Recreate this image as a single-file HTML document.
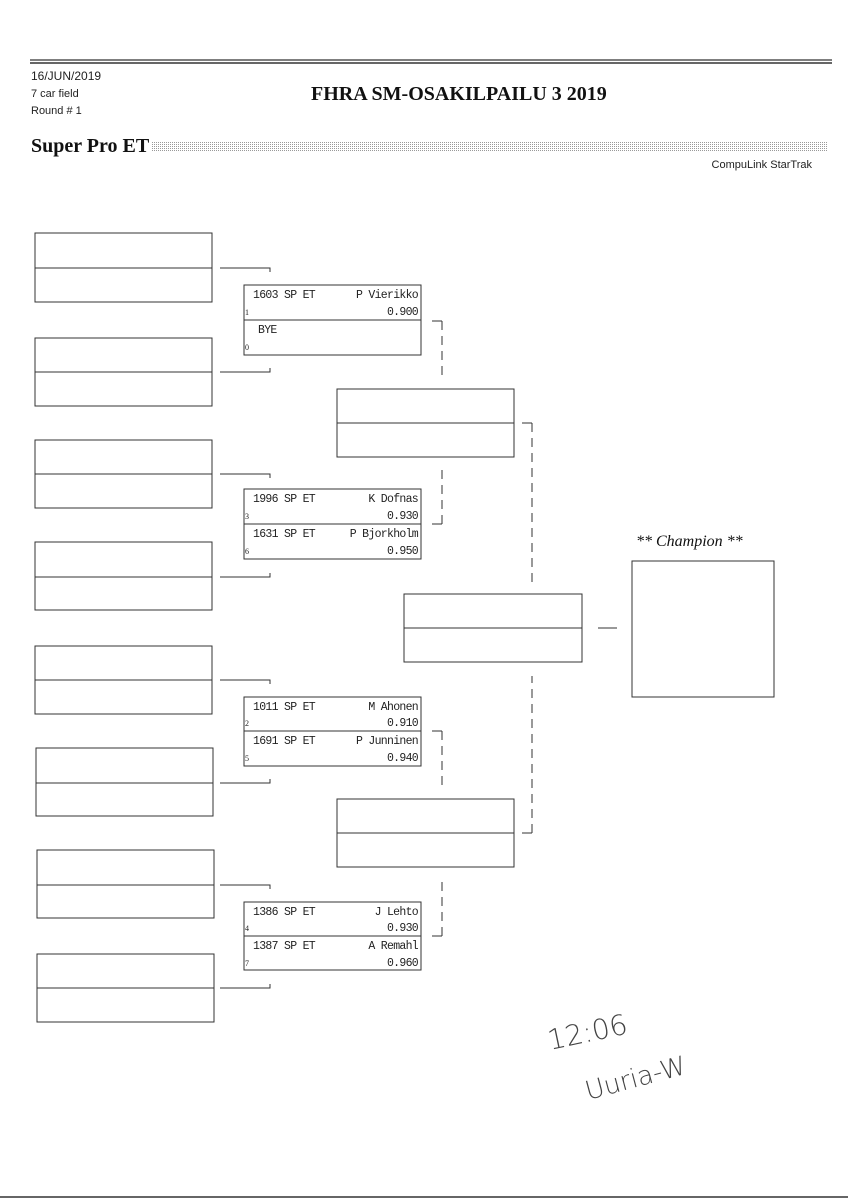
<!DOCTYPE html>
<html><head><meta charset="utf-8"><style>
html,body{margin:0;padding:0;background:#fff;width:848px;height:1200px;overflow:hidden}
svg{display:block}
.m{font-family:"Liberation Mono",monospace;font-size:11.5px;fill:#222;letter-spacing:-0.7px}
.s{font-family:"Liberation Serif",serif;font-size:8px;fill:#222}
.n{font-family:"Liberation Sans",sans-serif;font-size:11px;fill:#222}
</style></head><body>
<svg width="848" height="1200" viewBox="0 0 848 1200" xmlns="http://www.w3.org/2000/svg">
<defs><pattern id="dots" width="2" height="2" patternUnits="userSpaceOnUse"><rect width="1" height="1" fill="#999"/></pattern></defs>
<line x1="30" y1="60" x2="832" y2="60" stroke="#555" stroke-width="1.5"/>
<line x1="30" y1="63" x2="832" y2="63" stroke="#333" stroke-width="1.5"/>
<line x1="0" y1="1197" x2="848" y2="1197" stroke="#333" stroke-width="1.5"/>
<text class="n" x="31" y="80" style="font-size:12px">16/JUN/2019</text>
<text class="n" x="31" y="97" style="font-size:11px">7 car field</text>
<text class="n" x="31" y="114" style="font-size:11px">Round # 1</text>
<text x="311" y="100" style="font-family:'Liberation Serif',serif;font-weight:bold;font-size:20px" fill="#111">FHRA SM-OSAKILPAILU 3 2019</text>
<text x="31" y="152" style="font-family:'Liberation Serif',serif;font-weight:bold;font-size:20px" fill="#111">Super Pro ET</text>
<rect x="152" y="141" width="676" height="11" fill="url(#dots)"/>
<text class="n" x="812" y="168" text-anchor="end" style="font-size:11px">CompuLink StarTrak</text>

<g fill="none" stroke="#333" stroke-width="1">
<rect x="35" y="233" width="177" height="69"/><line x1="35" y1="268" x2="212" y2="268"/>
<rect x="35" y="338" width="177" height="68"/><line x1="35" y1="372" x2="212" y2="372"/>
<rect x="35" y="440" width="177" height="68"/><line x1="35" y1="474" x2="212" y2="474"/>
<rect x="35" y="542" width="177" height="68"/><line x1="35" y1="577" x2="212" y2="577"/>
<rect x="35" y="646" width="177" height="68"/><line x1="35" y1="680" x2="212" y2="680"/>
<rect x="36" y="748" width="177" height="68"/><line x1="36" y1="783" x2="213" y2="783"/>
<rect x="37" y="850" width="177" height="68"/><line x1="37" y1="885" x2="214" y2="885"/>
<rect x="37" y="954" width="177" height="68"/><line x1="37" y1="988" x2="214" y2="988"/>
<path d="M220 268H270V272"/><path d="M220 372H270V368"/>
<path d="M220 474H270V478"/><path d="M220 577H270V573"/>
<path d="M220 680H270V684"/><path d="M220 783H270V779"/>
<path d="M220 885H270V889"/><path d="M220 988H270V984"/>
<rect x="244" y="285" width="177" height="70"/><line x1="244" y1="320" x2="421" y2="320"/>
<rect x="244" y="489" width="177" height="70"/><line x1="244" y1="524" x2="421" y2="524"/>
<rect x="244" y="697" width="177" height="69"/><line x1="244" y1="731" x2="421" y2="731"/>
<rect x="244" y="902" width="177" height="68"/><line x1="244" y1="936" x2="421" y2="936"/>
<rect x="337" y="389" width="177" height="68"/><line x1="337" y1="423" x2="514" y2="423"/>
<rect x="337" y="799" width="177" height="68"/><line x1="337" y1="833" x2="514" y2="833"/>
<rect x="404" y="594" width="178" height="68"/><line x1="404" y1="628" x2="582" y2="628"/>
<line x1="598" y1="628" x2="617" y2="628"/>
<rect x="632" y="561" width="142" height="136"/>
</g>
<g fill="none" stroke="#333" stroke-width="1">
<line x1="432" y1="321" x2="442" y2="321"/><line x1="432" y1="524" x2="442" y2="524"/>
<line x1="432" y1="731" x2="442" y2="731"/><line x1="432" y1="936" x2="442" y2="936"/>
<line x1="522" y1="423" x2="532" y2="423"/><line x1="522" y1="833" x2="532" y2="833"/>
</g>
<g fill="none" stroke="#333" stroke-width="1" stroke-dasharray="9,6">
<line x1="442" y1="321" x2="442" y2="378"/><line x1="442" y1="524" x2="442" y2="466"/>
<line x1="442" y1="731" x2="442" y2="788"/><line x1="442" y1="936" x2="442" y2="880"/>
<line x1="532" y1="423" x2="532" y2="582"/><line x1="532" y1="833" x2="532" y2="676"/>
</g>
<text x="636" y="546" style="font-family:'Liberation Serif',serif;font-style:italic;font-size:16px" fill="#111">** Champion **</text>

<g class="m">
<text x="253" y="298">1603 SP ET</text><text x="418" y="298" text-anchor="end">P Vierikko</text><text x="418" y="315" text-anchor="end">0.900</text>
<text x="258" y="333">BYE</text>
<text x="253" y="502">1996 SP ET</text><text x="418" y="502" text-anchor="end">K Dofnas</text><text x="418" y="519" text-anchor="end">0.930</text>
<text x="253" y="537">1631 SP ET</text><text x="418" y="537" text-anchor="end">P Bjorkholm</text><text x="418" y="554" text-anchor="end">0.950</text>
<text x="253" y="710">1011 SP ET</text><text x="418" y="710" text-anchor="end">M Ahonen</text><text x="418" y="726" text-anchor="end">0.910</text>
<text x="253" y="744">1691 SP ET</text><text x="418" y="744" text-anchor="end">P Junninen</text><text x="418" y="761" text-anchor="end">0.940</text>
<text x="253" y="915">1386 SP ET</text><text x="418" y="915" text-anchor="end">J Lehto</text><text x="418" y="931" text-anchor="end">0.930</text>
<text x="253" y="949">1387 SP ET</text><text x="418" y="949" text-anchor="end">A Remahl</text><text x="418" y="966" text-anchor="end">0.960</text>
</g>
<g class="s">
<text x="245" y="315">1</text><text x="245" y="350">0</text>
<text x="245" y="519">3</text><text x="245" y="554">6</text>
<text x="245" y="726">2</text><text x="245" y="761">5</text>
<text x="245" y="931">4</text><text x="245" y="966">7</text>
</g>
<text x="550" y="1050" transform="rotate(-12 550 1050)" style="font-family:'DejaVu Sans',sans-serif;font-size:28px;font-weight:200" fill="#444">12:06</text>
<text x="588" y="1100" transform="rotate(-15 588 1100)" style="font-family:'DejaVu Sans',sans-serif;font-size:26px;font-weight:200" fill="#444">Uuria-W</text>
</svg>
</body></html>
